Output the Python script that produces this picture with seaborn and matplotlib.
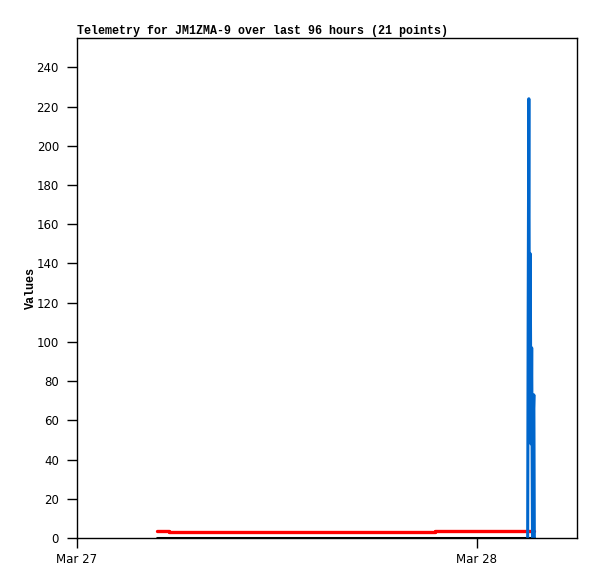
import matplotlib
matplotlib.use("agg")
import matplotlib.pyplot as plt
import matplotlib.dates as mdates
import seaborn as sns
import pandas as pd

# hours after Mar 27 00:00
RED_HOURS = [4.8, 5.2, 5.5, 10.7, 21.5, 26.9, 27.0, 27.4]
RED_VALUES = [3.8, 3.4, 3.0, 3.3, 3.8, 3.8, 3.5, 3.5]
BLACK_HOURS = [4.8, 27.4]
BLACK_VALUES = [0.0, 0.0]
BLUE_HOURS = [27.04, 27.07, 27.11, 27.15, 27.19, 27.24, 27.28, 27.33, 27.37, 27.41, 27.44]
BLUE_VALUES = [0, 112, 224, 60, 145, 48, 97, 0, 60, 73, 0]

START = pd.Timestamp("2024-03-27 00:00")
X_END = pd.Timestamp("2024-03-28 06:00")
Y_TICKS = list(range(0, 241, 20))
TITLE = "Telemetry for JM1ZMA-9 over last 96 hours (21 points)"


def to_frame(hours, values):
    return pd.DataFrame({"time": [START + pd.Timedelta(hours=h) for h in hours], "value": values})


sns.set_style("white")
plt.rcParams["font.family"] = ["Liberation Mono", "DejaVu Sans Mono"]
plt.rcParams["text.color"] = "black"
plt.rcParams["axes.labelcolor"] = "black"
plt.rcParams["xtick.color"] = "black"
plt.rcParams["ytick.color"] = "black"

fig = plt.figure(figsize=(5.97, 5.79), dpi=100)
ax = fig.add_axes([77 / 597, 1 - 538 / 579, 500 / 597, 500 / 579])

sns.lineplot(data=to_frame(BLACK_HOURS, BLACK_VALUES), x="time", y="value", color="black",
             linewidth=2.2, ax=ax)
sns.lineplot(data=to_frame(RED_HOURS, RED_VALUES), x="time", y="value", color="#ff0000",
             linewidth=2.4, drawstyle="steps-post", ax=ax)
sns.lineplot(data=to_frame(BLUE_HOURS, BLUE_VALUES), x="time", y="value", color="#0066cc",
             linewidth=2.2, ax=ax)

ax.set_xlim(START, X_END)
ax.set_ylim(0, 255)
ax.set_yticks(Y_TICKS)
ax.xaxis.set_major_locator(mdates.DayLocator())
ax.xaxis.set_major_formatter(mdates.DateFormatter("%b %d"))
ax.tick_params(direction="out", length=7, width=1, colors="black", labelsize=8.5,
               left=True, bottom=True)
ax.tick_params(axis="y", pad=6)
ax.tick_params(axis="x", pad=4)
for lbl in ax.get_xticklabels() + ax.get_yticklabels():
    lbl.set_family("DejaVu Sans")
for s in ax.spines.values():
    s.set_color("black")
    s.set_linewidth(1)

ax.set_xlabel("")
ax.set_ylabel("Values", fontsize=8.5, fontweight="bold", color="black")
ax.yaxis.set_label_coords(-0.08, 0.5)
ax.set_title(TITLE, loc="left", fontsize=8.4, fontweight="bold", pad=3, color="black")

fig.savefig("out.png", dpi=100)
